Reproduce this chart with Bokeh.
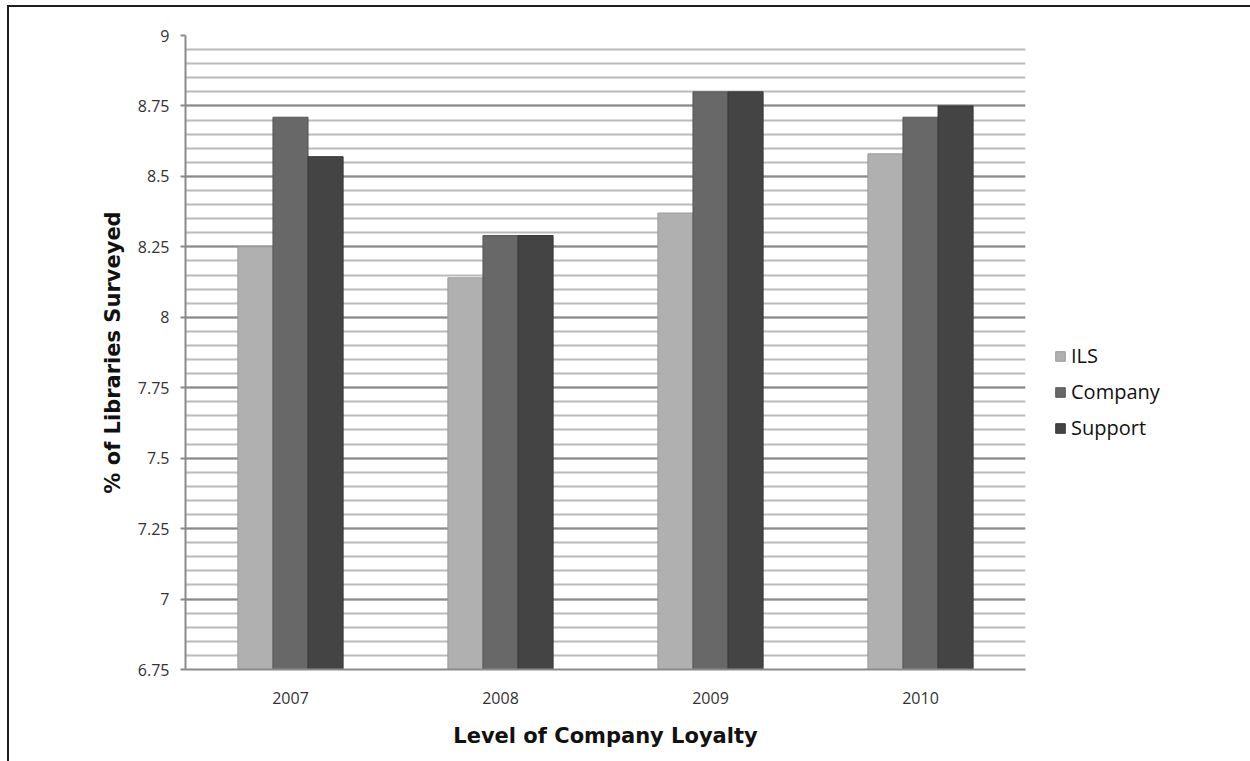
from bokeh.plotting import figure
from bokeh.models import FactorRange, FixedTicker, Legend, LegendItem, ColumnDataSource
from bokeh.transform import dodge
from bokeh.embed import file_html
from bokeh.resources import INLINE

years = ["2007", "2008", "2009", "2010"]
ils = [8.25, 8.14, 8.37, 8.58]
company = [8.71, 8.29, 8.80, 8.71]
support = [8.57, 8.29, 8.80, 8.75]
series_names = ["ILS", "Company", "Support"]
y_ticks = [6.75, 7.0, 7.25, 7.5, 7.75, 8.0, 8.25, 8.5, 8.75, 9.0]
y_tick_labels = ["6.75", "7", "7.25", "7.5", "7.75", "8", "8.25", "8.5", "8.75", "9"]
minor_step = 0.05

src = ColumnDataSource(dict(year=years, ils=ils, company=company, support=support))

OX, OY = 9, 7  # offset produced by the outer frame (margin + border)
p = figure(x_range=FactorRange(factors=years), y_range=(6.75, 9.0),
           frame_width=840, frame_height=634, output_backend="svg", toolbar_location=None,
           min_border_left=185 - OX, min_border_right=0, min_border_top=35 - OY, min_border_bottom=92)
p.outline_line_color = None
p.background_fill_color = "white"
p.border_fill_color = "white"
p.styles = {"border-left": "2px solid #1e1e1e", "border-top": "2px solid #1e1e1e",
            "margin-left": "7px", "margin-top": "5px"}

colors = ["#b0b0b0", "#686868", "#444444"]
outlines = ["#9a9a9a", "#575757", "#383838"]
bw = 0.167
rs = []
for off, col, c, lc in zip([-bw, 0, bw], ["ils", "company", "support"], colors, outlines):
    r = p.vbar(x=dodge("year", off, range=p.x_range), top=col, bottom=6.75, width=bw,
               source=src, fill_color=c, line_color=lc, line_width=1)
    rs.append(r)

n_minor = int(round((9.0 - 6.75) / minor_step))
minor = [6.75 + i * minor_step for i in range(n_minor + 1)]
p.yaxis.ticker = FixedTicker(ticks=y_ticks, minor_ticks=minor)
p.yaxis.major_label_overrides = {t: l for t, l in zip(y_ticks, y_tick_labels)}
p.ygrid.grid_line_color = "#8a8a8a"
p.ygrid.grid_line_width = 2
p.ygrid.minor_grid_line_color = "#bababa"
p.ygrid.minor_grid_line_width = 2
p.xgrid.grid_line_color = None

for ax in (p.xaxis, p.yaxis):
    ax.axis_line_color = "#8a8a8a"
    ax.axis_line_width = 2
    ax.major_label_text_font = "Open Sans"
    ax.major_label_text_font_size = "16px"
    ax.major_label_text_color = "#333333"
    ax.axis_label_text_font = "DejaVu Sans"
    ax.axis_label_text_font_style = "bold"
    ax.axis_label_text_font_size = "21px"
    ax.axis_label_text_color = "#111111"
    ax.minor_tick_line_color = None

p.yaxis.major_tick_line_color = "#8a8a8a"
p.yaxis.major_tick_line_width = 2
p.yaxis.major_tick_out = 5
p.yaxis.major_tick_in = 0
p.yaxis.major_label_standoff = 11
p.yaxis.axis_label = "% of Libraries Surveyed"
p.yaxis.axis_label_standoff = 10

p.xaxis.major_tick_line_color = None
p.xaxis.major_label_standoff = 16
p.xaxis.axis_label = "Level of Company Loyalty"
p.xaxis.axis_label_standoff = 17

legend = Legend(items=[LegendItem(label=n, renderers=[r]) for n, r in zip(series_names, rs)],
                location=(29, 228), border_line_color=None, background_fill_alpha=0,
                label_text_font="Open Sans", label_text_font_size="20px",
                label_text_color="#111111", glyph_width=12, glyph_height=12,
                label_height=24, spacing=9, padding=4, label_standoff=5, margin=0)
p.add_layout(legend, "right")

open("out.html", "w").write(file_html(p, INLINE))
